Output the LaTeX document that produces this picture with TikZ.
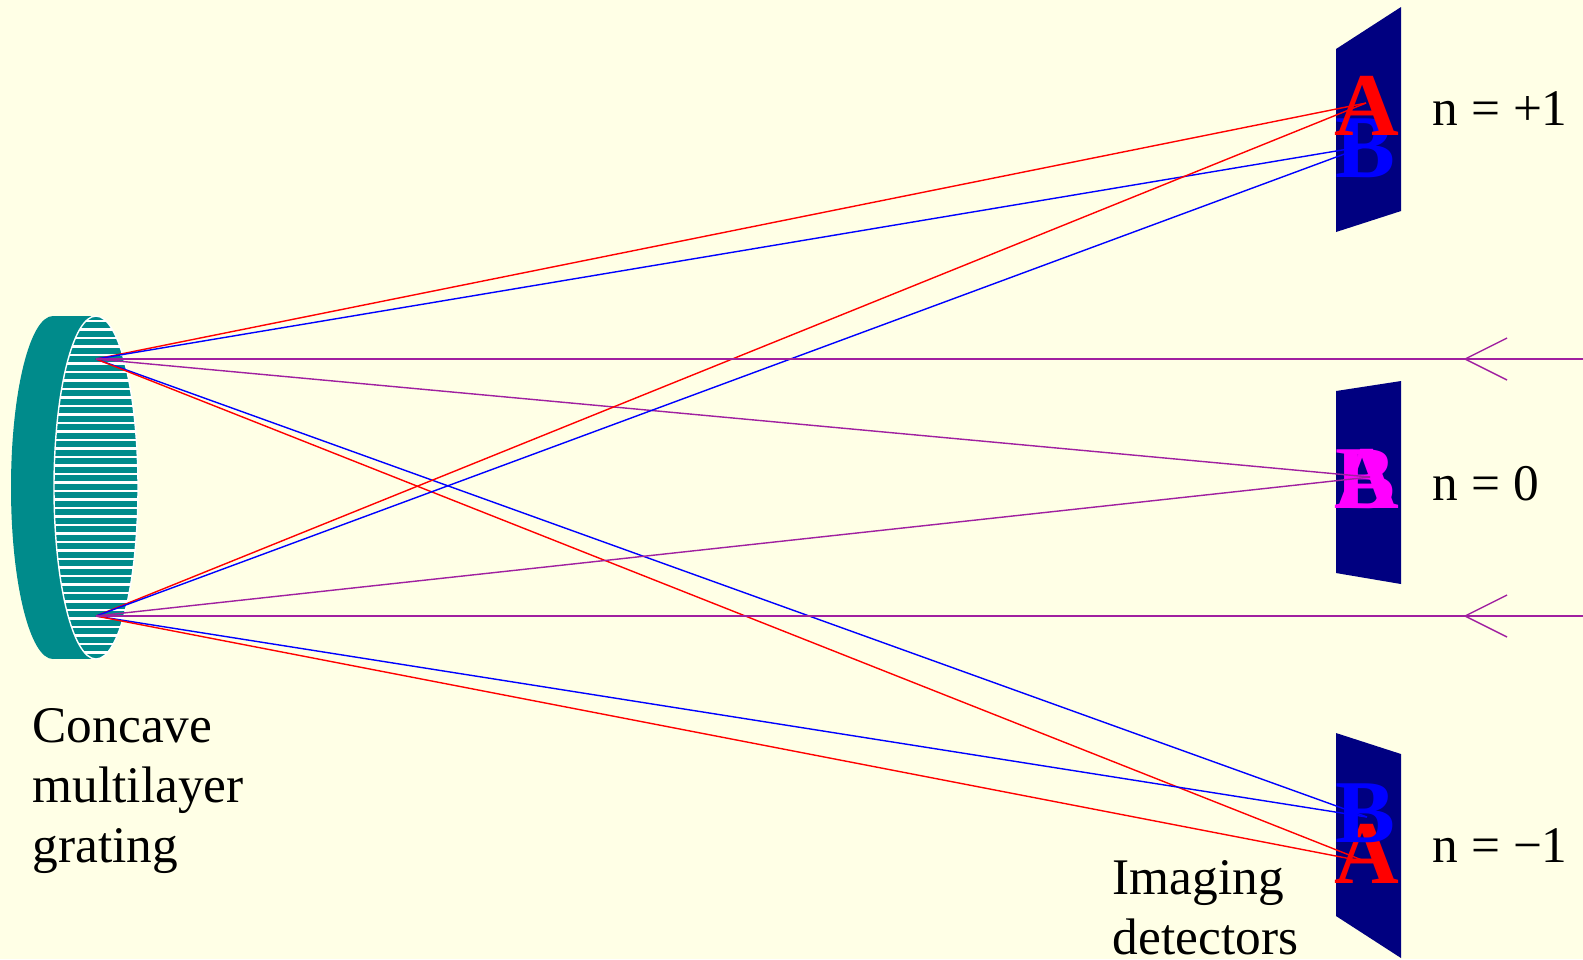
\documentclass[tikz,border=0pt]{standalone}
\usepackage{fontspec}
\setmainfont{Liberation Serif}
\usepackage{tikz}
\usetikzlibrary{arrows,shapes,positioning,calc}

\definecolor{paper}{RGB}{255,255,230}
\definecolor{gratingteal}{RGB}{0,139,139}
\definecolor{detnavy}{RGB}{0,0,128}
\definecolor{raypurple}{RGB}{160,32,160}
\definecolor{spotmagenta}{RGB}{255,0,255}
\definecolor{spotred}{RGB}{255,0,0}
\definecolor{spotblue}{RGB}{0,0,255}

\begin{document}
\begin{tikzpicture}[x=0.01cm, y=-0.01cm,
  ray/.style={line width=0.4pt},
  detector/.style={fill=detnavy},
  spot/.style={font=\fontsize{25.5}{30}\selectfont\bfseries, inner sep=0pt, anchor=base},
  txt/.style={font=\fontsize{14.6}{17}\selectfont, inner sep=0pt, align=left}]

  % Background
  \useasboundingbox (0,0) rectangle (1583,959);
  \fill[paper] (0,0) rectangle (1583,959);

  % Grating
  \fill[gratingteal] (53,487.5) ellipse (42 and 171.5);
  \fill[gratingteal] (53,316) rectangle (96,659);
  \fill[gratingteal] (96,487.5) ellipse (42 and 171.5);
  \begin{scope}
    \clip (96,487.5) ellipse (42 and 171.5);
    \foreach \k in {0,...,39}
      \draw[white, line width=0.6pt] (50,321+8.5*\k) -- (140,321+8.5*\k);
  \end{scope}
  \draw[white, line width=0.4pt] (96,487.5) ellipse (42 and 171.5);
  \coordinate (gU) at (96,359);
  \coordinate (gL) at (96,616);

  % Detectors
  \fill[detector] (1336,49) -- (1401,7) -- (1401,211) -- (1336,232) -- cycle;
  \fill[detector] (1336,391) -- (1401,381) -- (1401,584) -- (1336,573) -- cycle;
  \fill[detector] (1336,733) -- (1401,754) -- (1401,958) -- (1336,916) -- cycle;

  % Images
  \node[spot, text=spotblue] (topB) at (1365,177) {B};
  \node[spot, text=spotred] (topA) at (1367,135) {A};
  \node[spot, text=spotmagenta] (midB) at (1365,508) {B};
  \node[spot, text=spotmagenta] (midA) at (1367,508) {A};
  \node[spot, text=spotred] (botA) at (1367,883) {A};
  \node[spot, text=spotblue] (botB) at (1365,842) {B};

  % Foci
  \coordinate (fA) at (1366,103);
  \coordinate (fB) at (1366,146);
  \coordinate (fZ) at (1370,477);
  \coordinate (fBm) at (1367,817);
  \coordinate (fAm) at (1367,862);

  % Rays
  \foreach \g in {gU,gL} {
    \draw[ray, spotred] (\g) -- (fA);
    \draw[ray, spotblue] (\g) -- (fB);
    \draw[ray, raypurple] (\g) -- (fZ);
    \draw[ray, spotblue] (\g) -- (fBm);
    \draw[ray, spotred] (\g) -- (fAm);
  }

  % Incoming beams
  \coordinate (inU) at (1583,359);
  \coordinate (inL) at (1583,616);
  \coordinate (tipU) at (1465,359);
  \coordinate (tipL) at (1465,616);
  \draw[ray, raypurple] (inU) -- (gU);
  \draw[ray, raypurple] (inL) -- (gL);
  \draw[ray, raypurple] (tipU) ++(42,-21) -- (tipU) -- ++(42,21);
  \draw[ray, raypurple] (tipL) ++(42,-21) -- (tipL) -- ++(42,21);

  % Labels
  \node[txt, anchor=base west] (nPlus) at (1432,125) {n = +1};
  \node[txt, anchor=base west] (nZero) at (1432,500) {n = 0};
  \node[txt, anchor=base west] (nMinus) at (1432,862) {n = −1};
  \node[txt, anchor=north west] (gratingLbl) at (32,708) {Concave\\multilayer\\grating};
  \node[txt, anchor=north west] (detLbl) at (1112,860) {Imaging\\detectors};

\end{tikzpicture}
\end{document}
